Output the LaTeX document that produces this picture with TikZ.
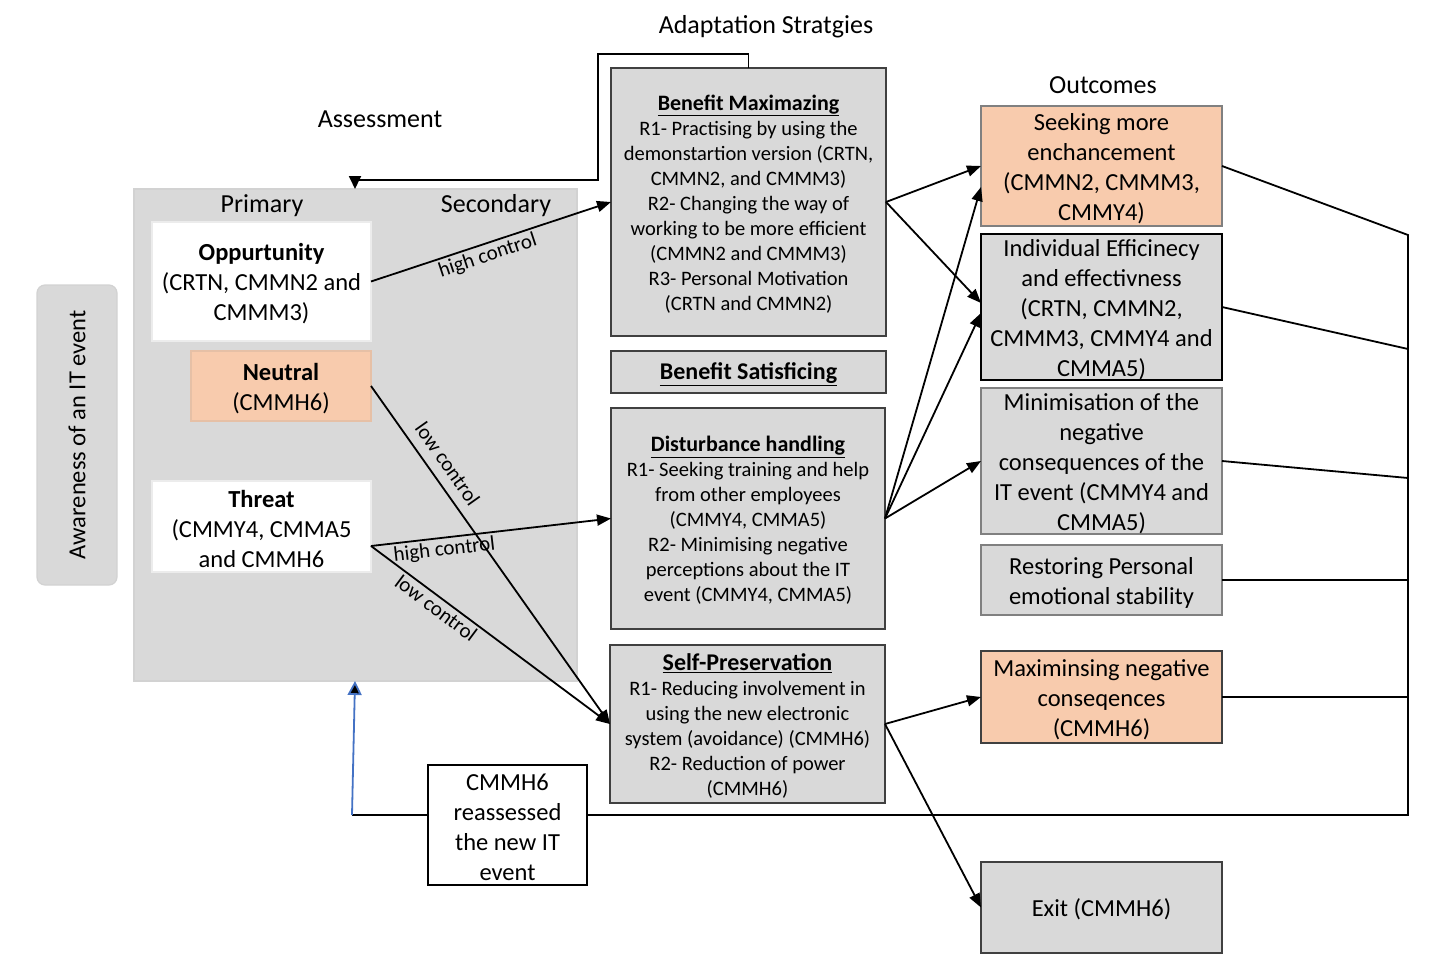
\documentclass[tikz,border=0pt]{standalone}
\usepackage{fontspec}
\setmainfont{Carlito}
\usetikzlibrary{arrows.meta,calc}
\definecolor{gfill}{HTML}{D9D9D9}
\definecolor{peach}{HTML}{F8CBAD}
\definecolor{bluel}{HTML}{4472C4}
\definecolor{bdark}{HTML}{404040}
\definecolor{bmid}{HTML}{808080}
\newcommand\tp{\rule{0pt}{0.9em}}
\begin{document}
\begin{tikzpicture}[x=1pt,y=-1pt,
  box/.style={anchor=north west, inner sep=0pt, outer sep=0pt, align=center, line width=1.2pt},
  txt/.style={font=\fontsize{24.5}{30}\selectfont},
  sml/.style={font=\fontsize{20.5}{25}\selectfont},
  head/.style={font=\fontsize{26}{31}\selectfont},
  arr/.style={line width=1.8pt, -{Triangle[length=14pt,width=11pt]}},
  con/.style={line width=1.8pt},
  lbl/.style={font=\fontsize{21}{25}\selectfont, sloped, inner sep=2.5pt}
]
\useasboundingbox (0,0) rectangle (1433,958);

% headings
\node[head] (adapt) at (766,27) {Adaptation Stratgies};
\node[head] (assess) at (380,119) {Assessment};
\node[head] (outc) at (1103,85) {Outcomes};

% awareness
\node[box, rounded corners=8pt, minimum width=80pt, minimum height=300pt, fill=gfill, draw=gray!35] (aware) at (37,285) {};
\node[txt, rotate=90] (awaretxt) at (aware.center) {Awareness of an IT event};

% assessment panel
\node[box, minimum width=443pt, minimum height=492pt, fill=gfill, draw=gray!35] (panel) at (134,189) {};
\node[head] (prim) at (262,206) {Primary};
\node[head] (sec) at (496,206) {Secondary};

\node[box, txt, minimum width=219pt, minimum height=119pt, fill=white, draw=gray!15] (opp) at (152,222)
  {\tp\textbf{Oppurtunity}\\(CRTN, CMMN2 and\\CMMM3)};
\node[box, txt, minimum width=180pt, minimum height=70pt, fill=peach, draw=peach!85!gray] (neutral) at (191,351)
  {\tp\textbf{Neutral}\\(CMMH6)};
\node[box, txt, minimum width=219pt, minimum height=91pt, fill=white, draw=gray!15] (threat) at (152,481)
  {\tp\textbf{Threat}\\(CMMY4, CMMA5\\and CMMH6};

% strategies
\node[box, sml, minimum width=275pt, minimum height=268pt, fill=gfill, draw=bdark] (bm) at (611,68)
  {{\fontsize{22}{27}\selectfont\tp\bfseries\underline{Benefit Maximazing}}\\R1- Practising by using the\\demonstartion version (CRTN,\\CMMN2, and CMMM3)\\R2- Changing the way of\\working to be more efficient\\(CMMN2 and CMMM3)\\R3- Personal Motivation\\(CRTN and CMMN2)};
\node[box, minimum width=275pt, minimum height=42pt, fill=gfill, draw=bdark, font=\fontsize{24}{28}\selectfont\bfseries] (bs) at (611,351)
  {\tp\underline{Benefit Satisficing}};
\node[box, sml, minimum width=274pt, minimum height=221pt, fill=gfill, draw=bdark] (dist) at (611,408)
  {{\fontsize{22}{27}\selectfont\tp\bfseries\underline{Disturbance handling}}\\R1- Seeking training and help\\from other employees\\(CMMY4, CMMA5)\\R2- Minimising negative\\perceptions about the IT\\event (CMMY4, CMMA5)};
\node[box, sml, minimum width=275pt, minimum height=158pt, fill=gfill, draw=bdark] (sp) at (610,645)
  {{\fontsize{24}{29}\selectfont\tp\bfseries\underline{Self-Preservation}}\\R1- Reducing involvement in\\using the new electronic\\system (avoidance) (CMMH6)\\R2- Reduction of power\\(CMMH6)};

% outcomes
\node[box, txt, minimum width=241pt, minimum height=120pt, fill=peach, draw=bmid] (seek) at (981,106)
  {\tp Seeking more\\enchancement\\(CMMN2, CMMM3,\\CMMY4)};
\node[box, txt, minimum width=241pt, minimum height=146pt, fill=gfill, draw=black] (ind) at (981,234)
  {\tp Individual Efficinecy\\and effectivness\\(CRTN, CMMN2,\\CMMM3, CMMY4 and\\CMMA5)};
\node[box, txt, minimum width=241pt, minimum height=146pt, fill=gfill, draw=bmid] (mini) at (981,388)
  {\tp Minimisation of the\\negative\\consequences of the\\IT event (CMMY4 and\\CMMA5)};
\node[box, txt, minimum width=241pt, minimum height=70pt, fill=gfill, draw=bmid] (rest) at (981,545)
  {\tp Restoring Personal\\emotional stability};
\node[box, txt, minimum width=241pt, minimum height=92pt, fill=peach, draw=bdark] (maxn) at (981,651)
  {\tp Maximinsing negative\\conseqences\\(CMMH6)};
\node[box, txt, minimum width=241pt, minimum height=91pt, fill=gfill, draw=bdark] (exit) at (981,862)
  {\tp Exit (CMMH6)};
\node[box, txt, minimum width=159pt, minimum height=120pt, fill=white, draw=black] (cm) at (428,765)
  {\tp CMMH6\\reassessed\\the new IT\\event};

% coordinates
\coordinate (tE) at ($(threat.east)+(0,19.5)$);
\coordinate (ind1) at ($(ind.west)+(0,-4)$);
\coordinate (ind2) at ($(ind.west)+(0,6)$);
\coordinate (seek2) at ($(seek.west)+(0,21)$);
\coordinate (f1) at (748.5,54);
\coordinate (f2) at (598,54);
\coordinate (f3) at (598,180);
\coordinate (f4) at (355,180);
\coordinate (pt) at ($(panel.north west)+(221,0)$);
\coordinate (pb) at ($(panel.south west)+(221,0)$);
\coordinate (b1) at (1408,235);
\coordinate (b2) at (1408,349);
\coordinate (b3) at (1408,478);
\coordinate (b4) at (1408,580);
\coordinate (b5) at (1408,697);
\coordinate (b6) at (1408,815);
\coordinate (cmR) at ($(cm.east)+(0,-10)$);
\coordinate (cmL) at ($(cm.west)+(0,-10)$);
\coordinate (bl1) at (352,815);

% assessment to strategies
\draw[arr] (opp.east) -- node[lbl, below, pos=0.47] (l1) {high control} (bm.west);
\draw[arr] (neutral.east) -- node[lbl, above=7pt, pos=0.26] (l2) {low control} (sp.west);
\draw[arr] (tE) -- node[lbl, below, pos=0.3] (l3) {high control} (dist.west);
\draw[arr] (tE) -- node[lbl, below, pos=0.3] (l4) {low control} (sp.west);

% strategies to outcomes
\draw[arr] (bm.east) -- (seek.west);
\draw[arr] (bm.east) -- (ind1);
\draw[arr] (dist.east) -- (seek2);
\draw[arr] (dist.east) -- (ind2);
\draw[arr] (dist.east) -- (mini.west);
\draw[arr] (sp.east) -- (maxn.west);
\draw[arr] (sp.east) -- (exit.west);

% feedback top
\draw[line width=1.8pt, -{Triangle[length=13pt,width=12pt]}] (bm.north) -- (f1) -- (f2) -- (f3) -- (f4) -- (pt);

% right bus
\draw[con] (seek.east) -- (b1) -- (b6) -- (cmR);
\draw[con] (ind.east) -- (b2);
\draw[con] (mini.east) -- (b3);
\draw[con] (rest.east) -- (b4);
\draw[con] (maxn.east) -- (b5);
\draw[con] (cmL) -- (bl1);
\draw[line width=1.8pt, bluel, -{Triangle[length=14pt,width=14pt,fill=black]}] (bl1) -- (pb);
\end{tikzpicture}
\end{document}
